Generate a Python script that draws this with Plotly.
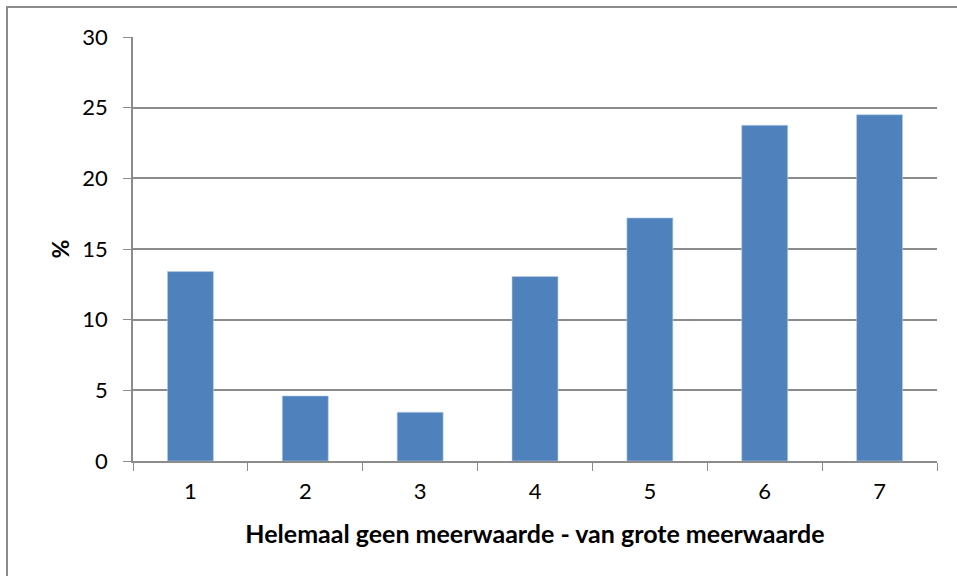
import plotly.graph_objects as go

categories = ["1", "2", "3", "4", "5", "6", "7"]
percentages = [13.4, 4.6, 3.45, 13.05, 17.2, 23.75, 24.5]
y_ticks = [0, 5, 10, 15, 20, 25, 30]

W, H = 957, 576
L, R, T, B = 133, 20, 37, 115
pw, ph = W - L - R, H - T - B

fig = go.Figure()
fig.add_trace(go.Bar(
    x=categories,
    y=percentages,
    marker=dict(color="#4F81BD", line=dict(color="#B9CDE5", width=0.6)),
    width=0.4,
))

axis_grey = "#8C8C8C"
fig.update_layout(
    width=W, height=H,
    margin=dict(l=L, r=R, t=T, b=B),
    paper_bgcolor="white",
    plot_bgcolor="white",
    showlegend=False,
    font=dict(family="Lato, Open Sans, sans-serif", size=22, color="black"),
    xaxis=dict(
        type="category",
        tickson="boundaries",
        ticks="outside",
        ticklen=8,
        tickcolor=axis_grey,
        ticklabelstandoff=10,
        showline=True,
        linecolor=axis_grey,
        linewidth=1.5,
        showgrid=False,
        title=dict(text="<b>Helemaal geen meerwaarde - van grote meerwaarde</b>",
                   font=dict(size=25), standoff=22),
    ),
    yaxis=dict(
        range=[0, 30],
        tickvals=y_ticks,
        ticks="outside",
        ticklen=8,
        tickcolor=axis_grey,
        ticklabelstandoff=11,
        showline=True,
        linecolor=axis_grey,
        linewidth=1.5,
        gridcolor=axis_grey,
        gridwidth=1.5,
        zeroline=False,
        title=dict(text="<b>%</b>", font=dict(size=23), standoff=6),
    ),
)

# outer chart border (only the left and top edges fall inside the picture)
x0 = (7 - L) / pw
x1 = (970 - L) / pw
y0 = (H - B - 590) / ph
y1 = (H - B - 7) / ph
fig.add_shape(type="rect", xref="paper", yref="paper",
              x0=x0, x1=x1, y0=y0, y1=y1,
              line=dict(color="#8C8C8C", width=2), layer="below")

fig.write_html("out.html", config={"displayModeBar": False},
               post_script="document.body.style.margin='0px';")
